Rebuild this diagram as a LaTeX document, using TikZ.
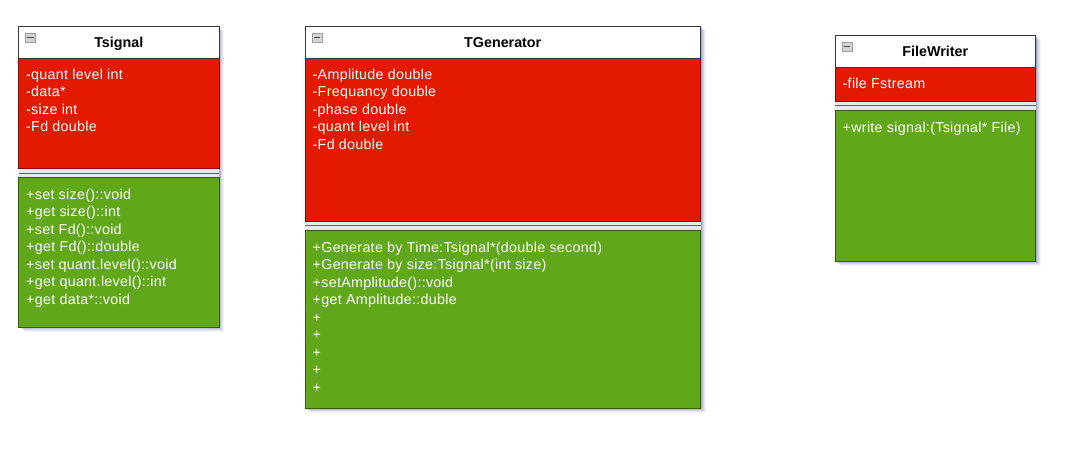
\documentclass[tikz,border=0pt]{standalone}
\usepackage{fontspec}
\setmainfont{Liberation Sans}
\newfontfamily\memberfont[LetterSpace=2]{Liberation Sans}
\usetikzlibrary{calc}

\definecolor{attrred}{RGB}{227,25,0}
\definecolor{opgreen}{RGB}{96,168,26}
\definecolor{frame}{RGB}{55,55,60}
\definecolor{sepband}{RGB}{232,232,240}

\tikzset{
  member/.style={anchor=base west, inner sep=0pt, text=white,
    font=\memberfont\fontsize{14.3}{16}\selectfont},
  classtitle/.style={anchor=base, inner sep=0pt,
    font=\bfseries\fontsize{14.3}{16}\selectfont},
  collapsebox/.style={draw=gray!75, fill=gray!35, line width=0.6pt,
    minimum width=10pt, minimum height=9pt, inner sep=0pt, anchor=north west},
}

% #1 id, #2 left, #3 right, #4 top, #5 header bottom, #6 attribute bottom,
% #7 bottom, #8 title
\newcommand{\classbody}[8]{%
  % soft drop shadow
  \foreach \k/\o in {1/0.12,2/0.10,3/0.08,4/0.06,5/0.04}{
    \fill[black!60!blue, opacity=\o] (#2+\k,#4+\k) rectangle (#3+\k,#7+\k);
  }
  % compartments
  \fill[white] (#2,#4) rectangle (#3,#5);
  \fill[attrred] (#2,#5) rectangle (#3,#6);
  \fill[sepband] (#2,#6) rectangle (#3,#6+9);
  \fill[opgreen] (#2,#6+9) rectangle (#3,#7);
  \draw[frame!80, line width=0.9pt] (#2,#6+4.5) -- (#3,#6+4.5);
  \draw[attrred!55!black, line width=0.8pt] (#2,#5) rectangle (#3,#6);
  \draw[opgreen!55!black, line width=0.9pt] (#2,#6+9) rectangle (#3,#7);
  \draw[frame, line width=0.9pt] (#2,#4) rectangle (#3,#5);
  % header
  \node[classtitle] (#1-title) at ({(#2+#3)/2},#4+21.3) {#8};
  \node[collapsebox] (#1-toggle) at (#2+6.5,#4+7) {};
  \draw[black!70, line width=1.1pt] ($(#1-toggle.west)+(2,0)$) -- ($(#1-toggle.east)+(-2,0)$);
}

% #1 id, #2 left, #3 first baseline, #4 lines
\newcommand{\members}[4]{%
  \foreach \t [count=\i] in {#4}{
    \node[member] (#1-\i) at (#2+7.5,#3+17.5*\i-17.5) {\t};
  }
}

\begin{document}
\begin{tikzpicture}[x=1pt,y=-1pt]
  \useasboundingbox (0,0) rectangle (1090,448);

  % Tsignal
  \classbody{ts}{18.5}{219}{26}{58}{168.5}{327}{Tsignal}
  \members{tsa}{18.5}{79.3}{-quant level int,-data*,-size int,-Fd double}
  \members{tsm}{18.5}{199.3}{+set size()::void,+get size()::int,+set Fd()::void,
    +get Fd()::double,+set quant.level()::void,+get quant.level()::int,+get data*::void}

  % TGenerator
  \classbody{tg}{305}{700.5}{26}{58}{221}{408}{TGenerator}
  \members{tga}{305}{79.3}{-Amplitude double,-Frequancy double,-phase double,
    -quant level int,-Fd double}
  \members{tgm}{305}{252.3}{+Generate by Time:Tsignal*(double second),
    +Generate by size:Tsignal*(int size),+setAmplitude()::void,
    +get Amplitude::duble,+,+,+,+,+}

  % FileWriter
  \classbody{fw}{835}{1035.5}{35}{67}{101}{261}{FileWriter}
  \members{fwa}{835}{88.8}{-file Fstream}
  \members{fwm}{835}{132.3}{+write signal:(Tsignal* File)}
\end{tikzpicture}
\end{document}
